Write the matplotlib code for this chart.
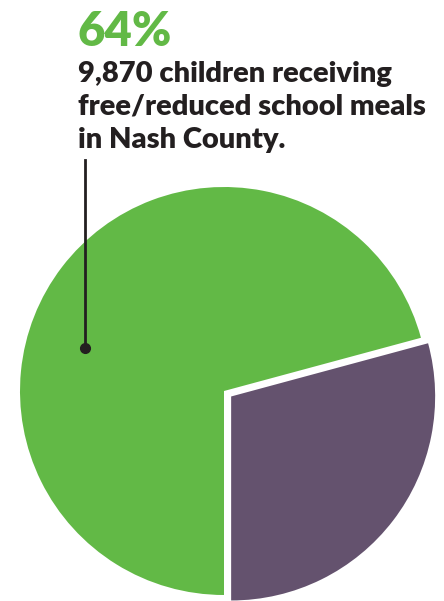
import matplotlib
matplotlib.use("Agg")
import matplotlib.pyplot as plt

# slice shares as drawn (purple first, going counterclockwise from the bottom)
labels = ["Not receiving", "Receiving free/reduced meals"]
shares = [29.2, 70.8]
colors = ["#64526e", "#62b946"]
explode = [9, 0]

headline = "64%"
caption = ["9,870 children receiving",
           "free/reduced school meals",
           "in Nash County."]

W, H = 444, 601
fig = plt.figure(figsize=(W / 100, H / 100), dpi=100)
ax = fig.add_axes([0, 0, 1, 1])

ax.pie(shares, colors=colors, explode=explode, startangle=-90,
       center=(224, H - 391), radius=204,
       wedgeprops=dict(linewidth=0))
ax.set_xlim(0, W)
ax.set_ylim(0, H)
ax.set_aspect("equal")
ax.axis("off")

# leader line with dot
ax.plot([85, 85], [H - 160, H - 348], color="#231f20", lw=2)
ax.plot(85, H - 348, "o", color="#231f20", ms=7)

ax.text(77, H - 46, headline, fontsize=34, fontweight="heavy",
        color="#62b946", family="Lato", va="baseline")
for i, line in enumerate(caption):
    ax.text(78, H - 82 - 33 * i, line, fontsize=21, fontweight="heavy",
            color="#231f20", family="Lato", va="baseline")

fig.savefig("out.png", dpi=100)
